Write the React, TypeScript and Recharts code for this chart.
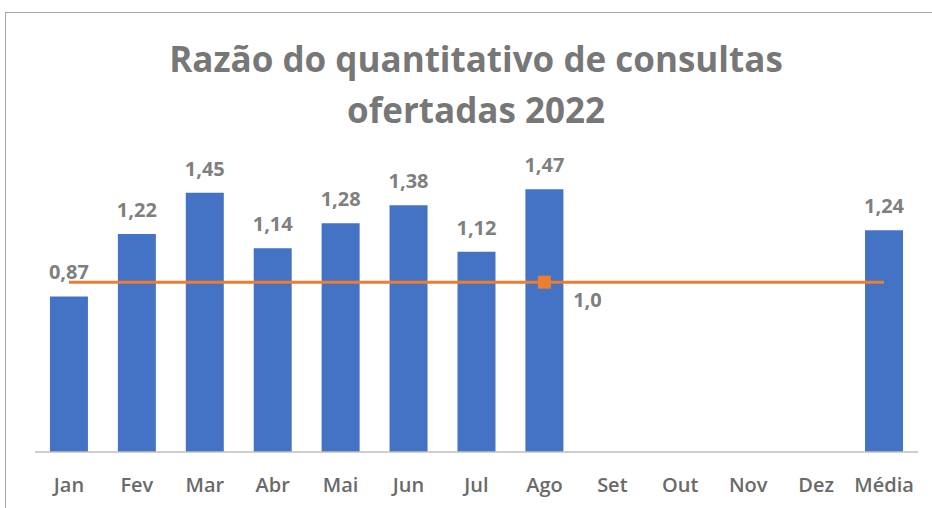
import React from 'react';
import { ComposedChart, Bar, Line, XAxis, YAxis, LabelList } from 'recharts';

const months = ['Jan', 'Fev', 'Mar', 'Abr', 'Mai', 'Jun', 'Jul', 'Ago', 'Set', 'Out', 'Nov', 'Dez', 'Média'];
const ratios = [0.87, 1.22, 1.45, 1.14, 1.28, 1.38, 1.12, 1.47, null, null, null, null, 1.24];
const reference = [0.95, 0.95, 0.95, 0.95, 0.95, 0.95, 0.95, 0.95, 0.95, 0.95, 0.95, 0.95, 0.95];
const referenceLabel = '1,0';
const markerIndex = 7;
const titleLines = ['Razão do quantitativo de consultas', 'ofertadas 2022'];

const data = months.map((m, i) => ({ month: m, ratio: ratios[i], target: reference[i] }));

const FONT = '"Open Sans", "Noto Sans", sans-serif';

const fmt2 = (v: any) => (v == null ? '' : Number(v).toFixed(2).replace('.', ','));

const RefDot = (props: any) => {
  const { cx, cy, index } = props;
  if (index !== markerIndex) return <g key={`d${index}`} />;
  return <rect key={`d${index}`} x={cx - 6.5} y={cy - 6.5} width={13} height={13} fill="#ED7D31" />;
};

const RefLabel = (props: any) => {
  const { x, y, index } = props;
  if (index !== markerIndex) return <g key={`l${index}`} />;
  return (
    <text key={`l${index}`} x={x + 43} y={y + 25} textAnchor="middle" fill="#7f7f7f" fontSize={20} fontWeight={700} fontFamily={FONT}>
      {referenceLabel}
    </text>
  );
};

export default function App() {
  return (
    <div style={{ position: 'absolute', left: 0, top: 0, width: 932, height: 508, background: '#fff', overflow: 'hidden' }}>
      <div style={{ position: 'absolute', left: 5, top: 12, width: 940, height: 510, borderLeft: '1px solid #a6a6a6', borderTop: '1px solid #a6a6a6' }} />
      <div style={{ position: 'absolute', left: 0, top: 33, width: 952, textAlign: 'center', fontFamily: FONT, fontWeight: 700, fontSize: 35, color: '#777777', lineHeight: '51px', whiteSpace: 'nowrap' }}>
        <div>{titleLines[0]}</div>
        <div>{titleLines[1]}</div>
      </div>
      <div style={{ position: 'absolute', left: 0, top: 0 }}>
        <ComposedChart width={932} height={508} data={data} margin={{ top: 166, right: 14, bottom: 0, left: 35 }} barCategoryGap="22%">
          <YAxis hide domain={[0, 1.6]} />
          <XAxis
            dataKey="month"
            height={56}
            tickLine={false}
            tickSize={0}
            tickMargin={26}
            axisLine={{ stroke: '#bfbfbf', strokeWidth: 1.5 }}
            tick={{ fill: '#6a6a6a', fontSize: 20, fontWeight: 600, fontFamily: FONT }}
            interval={0}
          />
          <Bar dataKey="ratio" fill="#4472C4" isAnimationActive={false}>
            <LabelList dataKey="ratio" position="top" offset={17} formatter={fmt2} fill="#7f7f7f" fontSize={20} fontWeight={700} fontFamily={FONT} />
          </Bar>
          <Line dataKey="target" stroke="#ED7D31" strokeWidth={3} dot={RefDot} activeDot={false} isAnimationActive={false}>
            <LabelList dataKey="target" content={RefLabel} />
          </Line>
        </ComposedChart>
      </div>
    </div>
  );
}
